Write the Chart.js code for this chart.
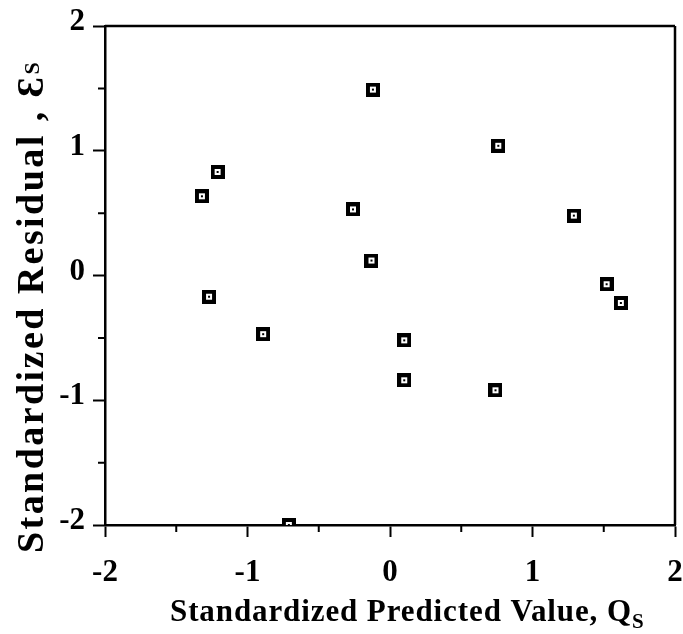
<!DOCTYPE html>
<html>
<head>
<meta charset="utf-8">
<script src="https://cdn.jsdelivr.net/npm/chart.js@4/dist/chart.umd.min.js"></script>
<style>
html,body{margin:0;padding:0;background:#fff;}
#wrap{position:relative;width:683px;height:634px;}
</style>
</head>
<body>
<div id="wrap"><canvas id="c" width="683" height="634"></canvas></div>
<script>
// Data
const predicted = [-1.32, -1.21, -1.27, -0.89, -0.71, -0.26, -0.12, -0.13, 0.10, 0.10, 0.74, 0.76, 1.29, 1.52, 1.62];
const residual  = [0.635, 0.83, -0.17, -0.47, -2.0, 0.53, 1.49, 0.12, -0.52, -0.84, -0.92, 1.04, 0.48, -0.07, -0.22];
const xTicks = [-2, -1, 0, 1, 2];
const yTicks = [-2, -1, 0, 1, 2];
const xMinor = [-1.5, -0.5, 0.5, 1.5];
const yMinor = [-1.5, -0.5, 0.5, 1.5];
const xTitle = "Standardized Predicted Value, Q";
const xTitleSub = "S";
const yTitle = "Standardized Residual , \u0190";
const yTitleSub = "S";

const FONT = "'Liberation Serif', 'Times New Roman', serif";

// marker: black square, white inner, black dot
const mk = document.createElement('canvas');
mk.width = 14; mk.height = 14;
(function(){
  const g = mk.getContext('2d');
  g.fillStyle = '#000'; g.fillRect(0,0,14,14);
  g.fillStyle = '#fff'; g.fillRect(4,4,6,6);
  g.fillStyle = '#000'; g.fillRect(6,6,2,2);
})();

const points = predicted.map((x,i)=>({x:x, y:residual[i]}));

function drawFitted(ctx, text, x, y, targetW, fontSize){
  ctx.font = "bold " + fontSize + "px " + FONT;
  ctx.letterSpacing = "0px";
  const w = ctx.measureText(text).width;
  const ls = (targetW - w) / text.length;
  ctx.letterSpacing = ls.toFixed(2) + "px";
  ctx.fillText(text, x, y);
  const end = x + w + ls * (text.length - 1);
  ctx.letterSpacing = "0px";
  return end;
}

const decor = {
  id: 'decor',
  afterDraw(chart){
    const ctx = chart.ctx;
    const a = chart.chartArea;
    const xs = chart.scales.x, ys = chart.scales.y;
    ctx.save();
    ctx.strokeStyle = '#000';
    // box top and right
    ctx.lineWidth = 2.5;
    ctx.beginPath();
    ctx.moveTo(a.left, a.top); ctx.lineTo(a.right, a.top);
    ctx.moveTo(a.right, a.top); ctx.lineTo(a.right, a.bottom);
    ctx.stroke();
    // minor ticks
    ctx.lineWidth = 2;
    ctx.beginPath();
    xMinor.forEach(v=>{ const p = xs.getPixelForValue(v); ctx.moveTo(p, a.bottom); ctx.lineTo(p, a.bottom+7); });
    yMinor.forEach(v=>{ const p = ys.getPixelForValue(v); ctx.moveTo(a.left, p); ctx.lineTo(a.left-7, p); });
    ctx.stroke();
    // titles
    ctx.fillStyle = '#000';
    ctx.textBaseline = 'alphabetic';
    ctx.textAlign = 'left';
    // x title: main text spans 170..632
    const endX = drawFitted(ctx, xTitle, 170, 621, 462, 31);
    ctx.font = "bold 21px " + FONT;
    ctx.fillText(xTitleSub, endX + 1, 628);
    // y title: rotated, main text from y=553 up to y=75
    ctx.translate(43, 553);
    ctx.rotate(-Math.PI/2);
    const endY = drawFitted(ctx, yTitle, 0, 0, 478, 38);
    ctx.font = "bold 22px " + FONT;
    ctx.fillText(yTitleSub, endY + 3, -4);
    ctx.restore();
  }
};

new Chart(document.getElementById('c'), {
  type: 'scatter',
  data: {
    datasets: [{
      data: points,
      pointStyle: mk,
      pointRadius: 7,
      pointHoverRadius: 7,
      backgroundColor: '#000',
      borderColor: '#000'
    }]
  },
  options: {
    responsive: false,
    animation: false,
    events: [],
    layout: { padding: { left: 0, right: 6, top: 26, bottom: 0 } },
    plugins: { legend: { display: false }, tooltip: { enabled: false } },
    scales: {
      x: {
        type: 'linear', min: -2, max: 2,
        afterFit(s){ s.height = 109; s.paddingLeft = 0; s.paddingRight = 0; },
        afterBuildTicks(s){ s.ticks = xTicks.map(v=>({value:v})); },
        ticks: { color: '#000', font: { family: FONT, weight: 'bold', size: 31 }, padding: 17,
                 callback: v => String(v) },
        grid: { drawOnChartArea: false, drawTicks: true, tickLength: 12, tickWidth: 2, tickColor: '#000' },
        border: { color: '#000', width: 2.5 }
      },
      y: {
        type: 'linear', min: -2, max: 2,
        afterFit(s){ s.width = 105; s.paddingTop = 0; s.paddingBottom = 0; },
        afterBuildTicks(s){ s.ticks = yTicks.map(v=>({value:v})); },
        ticks: { color: '#000', font: { family: FONT, weight: 'bold', size: 31 }, padding: 8, labelOffset: -4,
                 callback: v => String(v) },
        grid: { drawOnChartArea: false, drawTicks: true, tickLength: 12, tickWidth: 2, tickColor: '#000' },
        border: { color: '#000', width: 2.5 }
      }
    }
  },
  plugins: [decor]
});
</script>
</body>
</html>
